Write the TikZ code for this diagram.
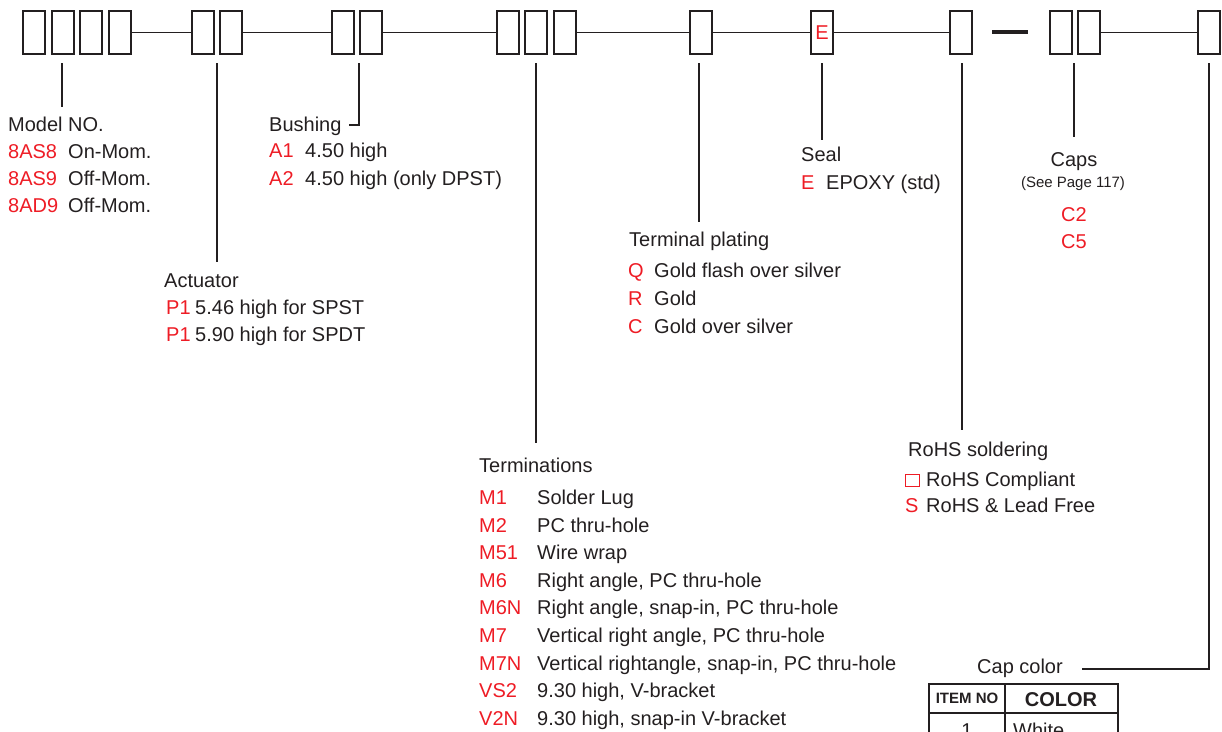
\documentclass[tikz,border=0pt]{standalone}
\usepackage{fontspec}
\setmainfont{Liberation Sans}
\definecolor{rd}{HTML}{EE1C25}
\definecolor{ink}{HTML}{231F20}
\begin{document}
\begin{tikzpicture}[x=1pt,y=-1pt,
  box/.style={draw=ink,line width=2pt,minimum width=22pt,minimum height=43pt,inner sep=0pt,anchor=north west},
  link/.style={draw=ink,line width=1.3pt},
  lead/.style={draw=ink,line width=1.3pt},
  txt/.style={anchor=base west,inner sep=0pt,text=ink,font=\fontsize{20}{23}\selectfont},
  code/.style={txt,text=rd},
  ctxt/.style={txt,anchor=base},
  ccode/.style={code,anchor=base},
  grid/.style={draw=ink,line width=1.6pt}]
\useasboundingbox (0,0) rectangle (1222,731);
\clip (0,0) rectangle (1222,731);
% ---- top row of boxes
\node[box] (b1) at (22,10) {};
\node[box] (b2) at (51,10) {};
\node[box] (b3) at (79,10) {};
\node[box] (b4) at (108,10) {};
\node[box] (b5) at (191,10) {};
\node[box] (b6) at (219,10) {};
\node[box] (b7) at (331,10) {};
\node[box] (b8) at (359,10) {};
\node[box] (b9) at (496,10) {};
\node[box] (b10) at (524,10) {};
\node[box] (b11) at (553,10) {};
\node[box] (b12) at (689,10) {};
\node[box,text=rd,font=\fontsize{20}{23}\selectfont] (b13) at (810,10) {E};
\node[box] (b14) at (949,10) {};
\node[fill=ink,minimum width=36pt,minimum height=4.5pt,inner sep=0pt] (dash) at (1010,32) {};
\node[box] (b15) at (1049,10) {};
\node[box] (b16) at (1077,10) {};
\node[box] (b17) at (1197,10) {};
% ---- links between groups
\draw[link] (b4.east) -- (b5.west);
\draw[link] (b6.east) -- (b7.west);
\draw[link] (b8.east) -- (b9.west);
\draw[link] (b11.east) -- (b12.west);
\draw[link] (b12.east) -- (b13.west);
\draw[link] (b13.east) -- (b14.west);
\draw[link] (b16.east) -- (b17.west);
% ---- leader start / end points
\coordinate (sModel) at (62,63);   \coordinate (eModel) at (62,107);
\coordinate (sAct) at (217,63);    \coordinate (eAct) at (217,262);
\coordinate (sBush) at (359,63);   \coordinate (kBush) at (359,125); \coordinate (eBush) at (349,125);
\coordinate (sTerm) at (536,63);   \coordinate (eTerm) at (536,443);
\coordinate (sPlat) at (699,63);   \coordinate (ePlat) at (699,222);
\coordinate (sSeal) at (822,63);   \coordinate (eSeal) at (822,140);
\coordinate (sRoHS) at (962,63);   \coordinate (eRoHS) at (962,430);
\coordinate (sCaps) at (1074,63);  \coordinate (eCaps) at (1074,137);
\coordinate (sCol) at (1209,63);   \coordinate (kCol) at (1209,669); \coordinate (eCol) at (1082,669);
\draw[lead] (sModel) -- (eModel);
\draw[lead] (sAct) -- (eAct);
\draw[lead] (sBush) -- (kBush) -- (eBush);
\draw[lead] (sTerm) -- (eTerm);
\draw[lead] (sPlat) -- (ePlat);
\draw[lead] (sSeal) -- (eSeal);
\draw[lead] (sRoHS) -- (eRoHS);
\draw[lead] (sCaps) -- (eCaps);
\draw[lead] (sCol) -- (kCol) -- (eCol);
% ---- Model NO.
\node[txt] (mh) at (8,131) {Model NO.};
\node[code] (m1c) at (8,158) {8AS8};  \node[txt] (m1t) at (68,158) {On-Mom.};
\node[code] (m2c) at (8,185) {8AS9};  \node[txt] (m2t) at (68,185) {Off-Mom.};
\node[code] (m3c) at (8,212) {8AD9};  \node[txt] (m3t) at (68,212) {Off-Mom.};
% ---- Bushing
\node[txt] (bh) at (269,131) {Bushing};
\node[code] (bu1c) at (269,157) {A1}; \node[txt] (bu1t) at (305,157) {4.50 high};
\node[code] (bu2c) at (269,185) {A2}; \node[txt] (bu2t) at (305,185) {4.50 high (only DPST)};
% ---- Actuator
\node[txt] (ah) at (164,287) {Actuator};
\node[code] (a1c) at (166,314) {P1}; \node[txt] (a1t) at (195,314) {5.46 high for SPST};
\node[code] (a2c) at (166,341) {P1}; \node[txt] (a2t) at (195,341) {5.90 high for SPDT};
% ---- Terminal plating
\node[txt] (ph) at (629,246) {Terminal plating};
\node[code] (p1c) at (628,277) {Q}; \node[txt] (p1t) at (654,277) {Gold flash over silver};
\node[code] (p2c) at (628,305) {R}; \node[txt] (p2t) at (654,305) {Gold};
\node[code] (p3c) at (628,333) {C}; \node[txt] (p3t) at (654,333) {Gold over silver};
% ---- Seal
\node[txt] (sh) at (801,161) {Seal};
\node[code] (s1c) at (801,189) {E}; \node[txt] (s1t) at (826,189) {EPOXY (std)};
% ---- Caps
\node[ctxt] (ch) at (1074,166) {Caps};
\node[ctxt,font=\fontsize{15}{17}\selectfont] (cs) at (1073,187) {(See Page 117)};
\node[ccode] (c1) at (1074,221) {C2};
\node[ccode] (c2) at (1074,248) {C5};
% ---- RoHS
\node[txt] (rh) at (908,456) {RoHS soldering};
\node[draw=rd,line width=1.2pt,minimum width=13.5pt,minimum height=11.5pt,inner sep=0pt] (r1c) at (912.5,480.5) {};
\node[txt] (r1t) at (926,486) {RoHS Compliant};
\node[code] (r2c) at (905,512) {S}; \node[txt] (r2t) at (926,512) {RoHS \& Lead Free};
% ---- Terminations
\node[txt] (th) at (479,472) {Terminations};
\foreach \c/\t/\y [count=\i] in {M1/Solder Lug/504, M2/PC thru-hole/532, M51/Wire wrap/559,
  M6/{Right angle, PC thru-hole}/587, M6N/{Right angle, snap-in, PC thru-hole}/614,
  M7/{Vertical right angle, PC thru-hole}/642, M7N/{Vertical rightangle, snap-in, PC thru-hole}/670,
  VS2/{9.30 high, V-bracket}/697, V2N/{9.30 high, snap-in V-bracket}/725}
  {\node[code] (tc\i) at (479,\y) {\c}; \node[txt] (tt\i) at (537,\y) {\t};}
% ---- Cap color table
\node[txt] (cc) at (977,673) {Cap color};
\draw[grid] (929,684) rectangle (1118,770);
\draw[grid] (1005,684) -- (1005,770);
\draw[grid] (929,713) -- (1118,713);
\node[ctxt,font=\bfseries\fontsize{15}{17}\selectfont] (hd1) at (967,703) {ITEM NO};
\node[ctxt,font=\bfseries\fontsize{20}{23}\selectfont] (hd2) at (1061,706) {COLOR};
\node[ctxt] (r1a) at (967,737) {1};
\node[txt] (r1b) at (1013,737) {White};
\end{tikzpicture}
\end{document}
